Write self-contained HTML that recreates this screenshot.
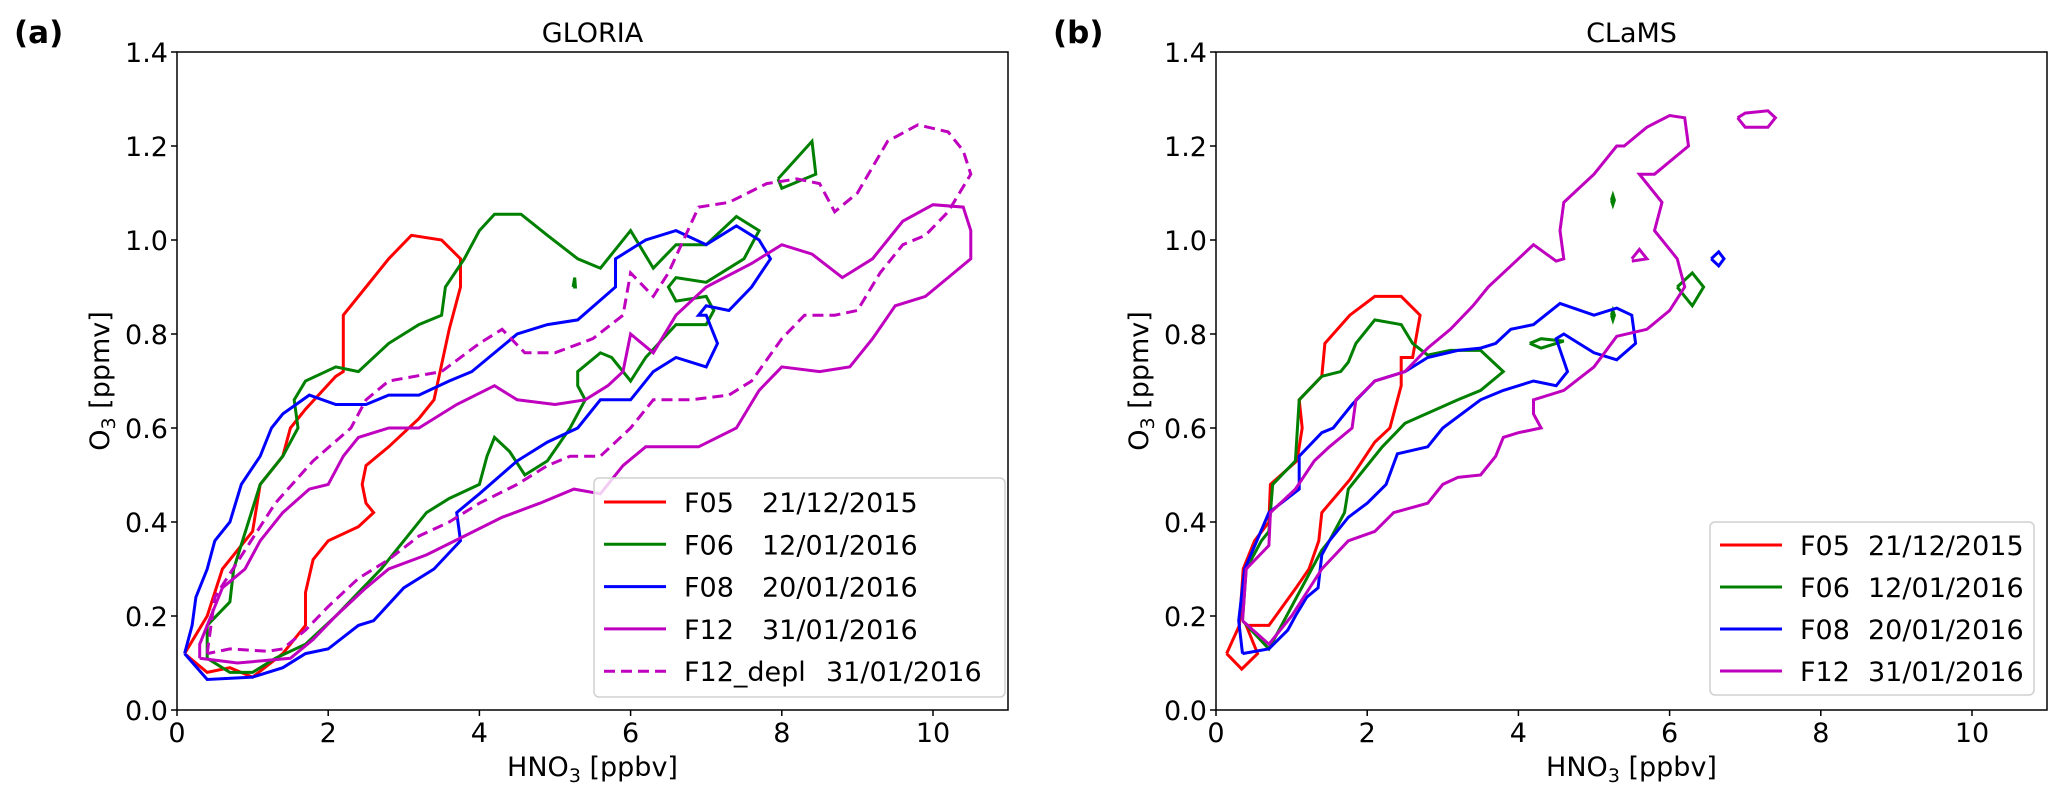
<!DOCTYPE html>
<html><head><meta charset="utf-8">
<style>
html,body{margin:0;padding:0;background:#fff;}
svg{display:block;font-family:"DejaVu Sans","Liberation Sans",sans-serif;}
</style></head>
<body>
<svg id="fig" width="2067" height="799" viewBox="0 0 2067 799" xmlns="http://www.w3.org/2000/svg"></svg>
<script>
// ---------- data ----------
const xTicks = [0,2,4,6,8,10];
const yTicks = [0.0,0.2,0.4,0.6,0.8,1.0,1.2,1.4];
const legendA = [["F05","21/12/2015"],["F06","12/01/2016"],["F08","20/01/2016"],["F12","31/01/2016"],["F12_depl","31/01/2016"]];
const legendB = [["F05","21/12/2015"],["F06","12/01/2016"],["F08","20/01/2016"],["F12","31/01/2016"]];

const aF05 = [[0.1,0.12],[0.4,0.2],[0.6,0.3],[1.0,0.38],[1.1,0.48],[1.4,0.54],[1.5,0.6],[1.7,0.64],[2.1,0.71],[2.2,0.72],[2.2,0.84],[2.5,0.9],[2.8,0.96],[3.1,1.01],[3.5,1.0],[3.75,0.96],[3.75,0.9],[3.6,0.81],[3.4,0.66],[3.2,0.62],[2.8,0.56],[2.5,0.52],[2.45,0.48],[2.5,0.44],[2.6,0.42],[2.4,0.39],[2.0,0.36],[1.8,0.32],[1.7,0.25],[1.7,0.18],[1.4,0.12],[1.0,0.07],[0.7,0.09],[0.4,0.08],[0.1,0.12]];
const aF06 = [[0.4,0.11],[0.4,0.18],[0.7,0.23],[0.75,0.3],[1.1,0.48],[1.4,0.54],[1.6,0.6],[1.55,0.66],[1.7,0.7],[2.1,0.73],[2.4,0.72],[2.8,0.78],[3.2,0.82],[3.5,0.84],[3.55,0.9],[3.8,0.96],[4.0,1.02],[4.2,1.055],[4.55,1.055],[4.9,1.01],[5.3,0.96],[5.6,0.94],[6.0,1.02],[6.3,0.94],[6.6,0.99],[7.0,0.99],[7.4,1.05],[7.7,1.02],[7.5,0.96],[7.0,0.91],[6.6,0.92],[6.5,0.9],[6.6,0.87],[7.0,0.88],[7.1,0.85],[7.0,0.82],[6.6,0.82],[6.2,0.75],[6.0,0.7],[5.75,0.75],[5.6,0.76],[5.3,0.72],[5.3,0.69],[5.4,0.66],[5.2,0.6],[4.9,0.53],[4.6,0.5],[4.4,0.55],[4.2,0.58],[4.1,0.54],[4.0,0.48],[3.6,0.45],[3.3,0.42],[3.0,0.36],[2.7,0.3],[2.4,0.25],[2.1,0.2],[1.7,0.14],[1.3,0.11],[1.0,0.08],[0.7,0.08],[0.4,0.11]];
const aF06b = [[7.95,1.13],[8.4,1.21],[8.45,1.14],[8.0,1.11],[7.95,1.13]];
const aF06c = [[5.24,0.9],[5.26,0.92],[5.27,0.9],[5.24,0.9]];
const aF08 = [[0.1,0.12],[0.2,0.18],[0.25,0.24],[0.4,0.3],[0.5,0.36],[0.7,0.4],[0.85,0.48],[1.1,0.54],[1.25,0.6],[1.4,0.63],[1.75,0.67],[2.1,0.65],[2.5,0.65],[2.8,0.67],[3.2,0.67],[3.6,0.7],[3.9,0.72],[4.5,0.8],[4.9,0.82],[5.3,0.83],[5.8,0.9],[5.8,0.96],[6.2,1.0],[6.6,1.02],[7.0,0.99],[7.4,1.03],[7.7,1.0],[7.85,0.96],[7.6,0.9],[7.3,0.85],[7.0,0.86],[6.9,0.84],[7.0,0.84],[7.15,0.78],[7.0,0.73],[6.6,0.75],[6.3,0.72],[6.0,0.66],[5.6,0.66],[5.3,0.6],[4.9,0.57],[4.5,0.53],[4.0,0.46],[3.7,0.42],[3.75,0.36],[3.4,0.3],[3.0,0.26],[2.6,0.19],[2.4,0.18],[2.0,0.13],[1.7,0.12],[1.4,0.09],[1.0,0.07],[0.4,0.065],[0.1,0.12]];
const aF12 = [[0.3,0.11],[0.3,0.14],[0.45,0.2],[0.6,0.26],[0.9,0.3],[1.1,0.36],[1.4,0.42],[1.75,0.47],[2.0,0.48],[2.2,0.54],[2.4,0.58],[2.8,0.6],[3.2,0.6],[3.7,0.65],[4.2,0.69],[4.5,0.66],[5.0,0.65],[5.4,0.66],[5.7,0.69],[5.9,0.72],[6.0,0.8],[6.3,0.76],[6.6,0.84],[7.0,0.9],[7.6,0.95],[8.0,0.99],[8.4,0.97],[8.8,0.92],[9.2,0.96],[9.6,1.04],[10.0,1.075],[10.4,1.07],[10.5,1.02],[10.5,0.96],[10.2,0.92],[9.9,0.88],[9.5,0.86],[9.2,0.79],[8.9,0.73],[8.5,0.72],[8.0,0.73],[7.7,0.68],[7.4,0.6],[6.9,0.56],[6.5,0.56],[6.2,0.56],[5.9,0.52],[5.6,0.46],[5.25,0.47],[4.8,0.44],[4.3,0.41],[3.8,0.37],[3.3,0.33],[2.8,0.3],[2.5,0.26],[2.1,0.2],[1.8,0.15],[1.5,0.11],[0.8,0.1],[0.3,0.11]];
const aF12depl = [[0.4,0.12],[0.5,0.24],[0.9,0.34],[1.3,0.44],[1.8,0.53],[2.3,0.6],[2.5,0.66],[2.8,0.7],[3.5,0.72],[4.0,0.78],[4.3,0.81],[4.6,0.76],[5.0,0.76],[5.5,0.79],[5.9,0.84],[6.0,0.93],[6.3,0.88],[6.5,0.93],[6.9,1.07],[7.3,1.08],[7.8,1.12],[8.2,1.13],[8.5,1.12],[8.7,1.06],[9.0,1.1],[9.4,1.21],[9.8,1.245],[10.2,1.23],[10.4,1.19],[10.5,1.14],[10.2,1.06],[9.9,1.01],[9.6,0.99],[9.3,0.93],[9.0,0.85],[8.7,0.84],[8.3,0.84],[8.0,0.79],[7.6,0.7],[7.3,0.67],[6.8,0.66],[6.3,0.66],[6.0,0.6],[5.6,0.54],[5.2,0.54],[4.9,0.52],[4.5,0.48],[4.0,0.44],[3.6,0.4],[3.2,0.37],[2.8,0.32],[2.4,0.28],[2.0,0.22],[1.7,0.17],[1.4,0.13],[1.2,0.125],[0.7,0.13],[0.4,0.12]];

const bF05 = [[0.14,0.12],[0.31,0.18],[0.36,0.3],[0.51,0.36],[0.7,0.4],[0.72,0.48],[1.07,0.53],[1.14,0.6],[1.1,0.66],[1.4,0.71],[1.44,0.78],[1.77,0.84],[2.1,0.88],[2.45,0.88],[2.7,0.84],[2.6,0.75],[2.45,0.75],[2.45,0.69],[2.3,0.6],[2.1,0.57],[1.77,0.49],[1.4,0.42],[1.36,0.36],[1.23,0.3],[1.06,0.26],[0.7,0.18],[0.4,0.18],[0.55,0.12],[0.34,0.087],[0.14,0.12]];
const bF06 = [[0.35,0.19],[0.4,0.3],[0.6,0.36],[0.7,0.38],[0.75,0.48],[1.05,0.53],[1.1,0.66],[1.4,0.71],[1.65,0.72],[1.75,0.74],[1.85,0.78],[2.1,0.83],[2.45,0.82],[2.6,0.78],[2.8,0.755],[3.1,0.765],[3.5,0.765],[3.8,0.72],[3.5,0.68],[3.2,0.66],[2.5,0.61],[2.2,0.56],[1.9,0.5],[1.75,0.47],[1.7,0.42],[1.5,0.36],[1.4,0.34],[1.2,0.28],[1.0,0.22],[0.7,0.13],[0.35,0.19]];
const bF06b = [[4.15,0.78],[4.3,0.79],[4.6,0.785],[4.3,0.77],[4.15,0.78]];
const bF06c = [[6.1,0.9],[6.3,0.93],[6.45,0.9],[6.3,0.86],[6.1,0.9]];
const bF06d = [[5.23,1.085],[5.25,1.095],[5.27,1.085],[5.25,1.075],[5.23,1.085]];
const bF06e = [[5.23,0.84],[5.25,0.85],[5.27,0.84],[5.25,0.83],[5.23,0.84]];
const bF08 = [[0.35,0.12],[0.3,0.19],[0.38,0.3],[0.7,0.42],[1.1,0.47],[1.1,0.54],[1.4,0.59],[1.55,0.6],[1.8,0.65],[2.1,0.7],[2.5,0.72],[2.8,0.75],[3.2,0.765],[3.5,0.77],[3.7,0.78],[3.9,0.81],[4.2,0.82],[4.55,0.865],[5.0,0.84],[5.3,0.855],[5.5,0.84],[5.55,0.78],[5.3,0.745],[5.0,0.76],[4.6,0.8],[4.5,0.79],[4.65,0.72],[4.5,0.69],[4.2,0.7],[3.8,0.68],[3.5,0.66],[3.0,0.6],[2.8,0.56],[2.4,0.545],[2.25,0.48],[2.0,0.44],[1.75,0.41],[1.5,0.36],[1.4,0.33],[1.35,0.26],[1.2,0.24],[1.05,0.2],[0.95,0.17],[0.7,0.13],[0.35,0.12]];
const bF08b = [[6.55,0.96],[6.65,0.975],[6.72,0.96],[6.65,0.945],[6.55,0.96]];
const bF12 = [[0.35,0.19],[0.4,0.3],[0.7,0.35],[0.72,0.42],[1.05,0.47],[1.3,0.53],[1.5,0.56],[1.8,0.6],[1.85,0.66],[2.1,0.7],[2.5,0.72],[2.8,0.77],[3.1,0.81],[3.4,0.86],[3.6,0.9],[4.0,0.96],[4.2,0.99],[4.5,0.955],[4.6,0.96],[4.55,1.02],[4.6,1.08],[5.0,1.14],[5.3,1.2],[5.4,1.2],[5.7,1.24],[6.0,1.265],[6.2,1.26],[6.25,1.2],[5.8,1.14],[5.6,1.14],[5.9,1.08],[5.8,1.02],[6.1,0.96],[6.2,0.9],[6.0,0.85],[5.7,0.81],[5.3,0.795],[5.0,0.73],[4.6,0.68],[4.2,0.66],[4.2,0.63],[4.3,0.6],[4.0,0.59],[3.8,0.58],[3.7,0.54],[3.5,0.5],[3.2,0.495],[3.0,0.48],[2.8,0.44],[2.35,0.42],[2.1,0.38],[1.75,0.36],[1.4,0.3],[1.0,0.2],[0.7,0.14],[0.35,0.19]];
const bF12b = [[6.9,1.26],[7.0,1.27],[7.3,1.275],[7.4,1.26],[7.3,1.24],[7.0,1.24],[6.9,1.26]];
const bF12c = [[5.5,0.96],[5.6,0.98],[5.7,0.96],[5.5,0.955]];

// ---------- drawing ----------
const NS = "http://www.w3.org/2000/svg";
const svg = document.getElementById("fig");
const COL = {F05:"#ff0000",F06:"#008000",F08:"#0000ff",F12:"#bf00bf"};
function mk(tag, attrs, parent){ const e=document.createElementNS(NS,tag); for(const k in attrs) e.setAttribute(k,attrs[k]); (parent||svg).appendChild(e); return e; }

function panel(id, left, title, letter, series, legend, leg){
  const g = mk("g",{});
  
  
  const top=52, bottom=710, right=left+831;
  const sx = v => left + v*75.6;
  const sy = v => bottom - v*(bottom-top)/1.4;
  series.forEach(s=>{
    const p = mk("polyline",{points:s.pts.map(q=>sx(q[0]).toFixed(1)+","+sy(q[1]).toFixed(1)).join(" "),fill:"none",stroke:s.c,"stroke-width":3,"stroke-linejoin":"miter"},g);
    if(s.dash) p.setAttribute("stroke-dasharray","11,6");
    
    
  });
  const fr = mk("rect",{x:left,y:top,width:right-left,height:bottom-top,fill:"none",stroke:"#000","stroke-width":1.5},g);
  
  
  xTicks.forEach(t=>{
    mk("line",{x1:sx(t),x2:sx(t),y1:bottom,y2:bottom+6,stroke:"#000","stroke-width":1.5},g);
    const tx = mk("text",{x:sx(t),y:bottom+32,"font-size":27,"text-anchor":"middle",fill:"#000"},g);
    tx.textContent = t;
    
    
  });
  yTicks.forEach(t=>{
    mk("line",{x1:left-6,x2:left,y1:sy(t),y2:sy(t),stroke:"#000","stroke-width":1.5},g);
    const tx = mk("text",{x:left-9,y:sy(t)+10,"font-size":27,"text-anchor":"end",fill:"#000"},g);
    tx.textContent = t.toFixed(1);
    
    
  });
  const ti = mk("text",{x:(left+right)/2,y:42,"font-size":27,"text-anchor":"middle"},g);
  ti.textContent = title;
  
  
  const le = mk("text",{x:left-163,y:43,"font-size":31,"font-weight":"bold"},g);
  le.textContent = letter;
  
  
  const xl = mk("text",{x:(left+right)/2,y:776,"font-size":27,"text-anchor":"middle"},g);
  xl.innerHTML = 'HNO<tspan font-size="19" dy="6">3</tspan><tspan dy="-6"> [ppbv]</tspan>';
  
  
  const yl = mk("text",{x:0,y:0,"font-size":27,"text-anchor":"middle",transform:`translate(${left-68},${(top+bottom)/2}) rotate(-90)`},g);
  yl.innerHTML = 'O<tspan font-size="19" dy="6">3</tspan><tspan dy="-6"> [ppmv]</tspan>';
  
  
  const lg = mk("g",{},g);
  
  
  mk("rect",{x:leg.x,y:leg.y,width:leg.w,height:leg.h,rx:5,fill:"#fff","fill-opacity":0.8,stroke:"#d0d0d0","stroke-width":1.5},lg);
  legend.forEach((e,i)=>{
    const y = leg.y0 + i*leg.dy;
    const key = e[0].split("_")[0];
    const ln = mk("line",{x1:leg.lx,x2:leg.lx+62,y1:y,y2:y,stroke:COL[key],"stroke-width":3},lg);
    if(e[0].indexOf("depl")>=0) ln.setAttribute("stroke-dasharray","11,6");
    
    
    const t1 = mk("text",{x:leg.tx,y:y+10,"font-size":27},lg);
    t1.textContent = e[0];
    
    
    const t2 = mk("text",{x:(e[0].length>4?leg.tx3:leg.tx2),y:y+10,"font-size":27},lg);
    t2.textContent = e[1];
    
    
  });
}

panel("gloria",177,"GLORIA","(a)",[
  {name:"f05-contour",pts:aF05,c:COL.F05},
  {name:"f06-contour",pts:aF06,c:COL.F06},
  {name:"f06-contour-small",pts:aF06b,c:COL.F06},
  {name:"f06-contour-tiny",pts:aF06c,c:COL.F06},
  {name:"f08-contour",pts:aF08,c:COL.F08},
  {name:"f12-contour",pts:aF12,c:COL.F12},
  {name:"f12-depl-contour",pts:aF12depl,c:COL.F12,dash:true}
],legendA,{x:594,y:478,w:411,h:219,y0:502,dy:42.3,lx:604,tx:684,tx2:762,tx3:826});

panel("clams",1216,"CLaMS","(b)",[
  {name:"f05-contour",pts:bF05,c:COL.F05},
  {name:"f06-contour",pts:bF06,c:COL.F06},
  {name:"f06-contour-small-1",pts:bF06b,c:COL.F06},
  {name:"f06-contour-small-2",pts:bF06c,c:COL.F06},
  {name:"f06-contour-tiny-1",pts:bF06d,c:COL.F06},
  {name:"f06-contour-tiny-2",pts:bF06e,c:COL.F06},
  {name:"f08-contour",pts:bF08,c:COL.F08},
  {name:"f08-contour-small",pts:bF08b,c:COL.F08},
  {name:"f12-contour",pts:bF12,c:COL.F12},
  {name:"f12-contour-small-1",pts:bF12b,c:COL.F12},
  {name:"f12-contour-small-2",pts:bF12c,c:COL.F12}
],legendB,{x:1710,y:522,w:324,h:173,y0:545,dy:42,lx:1720,tx:1800,tx2:1868,tx3:1868});
</script>
</body></html>
